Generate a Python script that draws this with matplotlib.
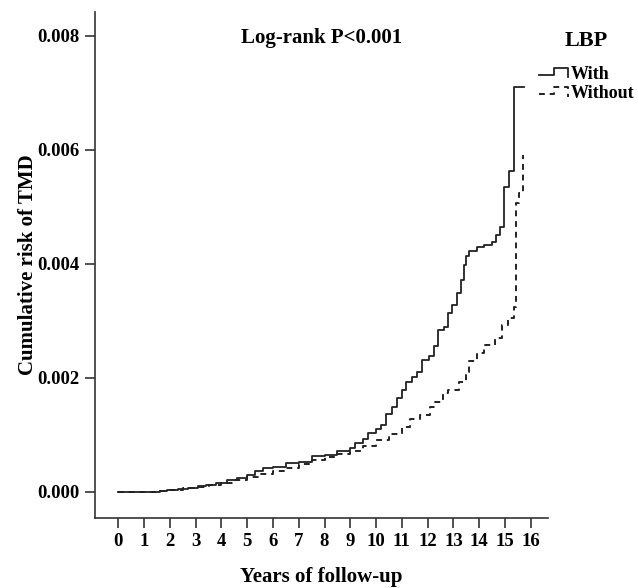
import matplotlib
matplotlib.use("Agg")
import matplotlib.pyplot as plt
from matplotlib.lines import Line2D
from matplotlib.legend_handler import HandlerLine2D

plt.rcParams["font.family"] = ["Liberation Serif", "DejaVu Serif"]
plt.rcParams["font.weight"] = "bold"

# Cumulative risk of TMD (step curves)
with_time = [0, 1.6, 1.9, 2.3, 2.7, 3.1, 3.4, 3.8, 4.2, 4.6, 5.0, 5.3, 5.6,
             6.0, 6.5, 7.0, 7.5, 8.0, 8.5, 9.0, 9.2, 9.5, 9.7, 10.0, 10.2,
             10.4, 10.6, 10.8, 11.0, 11.15, 11.4, 11.6, 11.8, 12.05, 12.25,
             12.4, 12.65, 12.8, 12.95, 13.15, 13.3, 13.4, 13.5, 13.6, 13.9,
             14.2, 14.5, 14.65, 14.8, 14.97, 15.15, 15.35, 15.74]
with_risk = [0, 0.00001, 0.00004, 0.00005, 0.00007, 0.00010, 0.00012,
             0.00016, 0.00021, 0.00025, 0.00030, 0.00037, 0.00041, 0.00044,
             0.00051, 0.00053, 0.00062, 0.00065, 0.00071, 0.00076, 0.00085,
             0.00092, 0.00103, 0.00110, 0.00118, 0.00136, 0.00148, 0.00164,
             0.00178, 0.00193, 0.00202, 0.00210, 0.00232, 0.00238, 0.00255,
             0.00284, 0.00289, 0.00314, 0.00328, 0.00349, 0.00372, 0.00398,
             0.00413, 0.00422, 0.00430, 0.00433, 0.00439, 0.00450, 0.00465,
             0.00535, 0.00562, 0.00710, 0.00710]

without_time = [0, 1.6, 2.0, 2.5, 3.0, 3.5, 4.0, 4.5, 5.0, 5.5, 6.0, 6.5,
                7.0, 7.5, 8.0, 8.5, 9.0, 9.5, 10.0, 10.5, 11.0, 11.3, 11.7,
                12.1, 12.3, 12.6, 12.8, 13.2, 13.5, 13.6, 13.9, 14.2, 14.6,
                14.9, 15.1, 15.36, 15.42, 15.55, 15.68, 15.70]
without_risk = [0, 0.00001, 0.00003, 0.00006, 0.00009, 0.00012, 0.00016,
                0.00020, 0.00026, 0.00031, 0.00036, 0.00042, 0.00048, 0.00055,
                0.00061, 0.00066, 0.00072, 0.00080, 0.00090, 0.00101, 0.00113,
                0.00128, 0.00134, 0.00148, 0.00158, 0.00173, 0.00179, 0.00193,
                0.00210, 0.00229, 0.00243, 0.00258, 0.00270, 0.00293, 0.00305,
                0.00325, 0.00507, 0.00524, 0.00591, 0.00591]

x_ticks = list(range(0, 17))
y_ticks = [0.000, 0.002, 0.004, 0.006, 0.008]

INK = "#222222"


class HandlerStep(HandlerLine2D):
    # legend glyph drawn as a small step, like the SPSS output
    def create_artists(self, legend, orig_handle, xdescent, ydescent,
                       width, height, fontsize, trans):
        x0, x1 = -xdescent, -xdescent + width
        xm = x0 + width * 0.5
        lo = -ydescent + height * 0.3
        hi = -ydescent + height * 0.85
        line = Line2D([x0, xm, xm, x1, x1], [lo, lo, hi, hi, lo * 0.4])
        self.update_prop(line, orig_handle, legend)
        line.set_transform(trans)
        return [line]


fig = plt.figure(figsize=(6.38, 5.88), dpi=100)
ax = fig.add_axes([0.149, 0.119, 0.71, 0.861])

ax.step(with_time, with_risk, where="post", color=INK, lw=1.3,
        label="With")
ax.step(without_time, without_risk, where="post", color=INK, lw=1.4,
        linestyle=(0, (3, 2.5)), label="Without")

ax.set_xlim(-0.9, 16.67)
ax.set_ylim(-0.00046, 0.00842)
ax.set_xticks(x_ticks)
ax.set_yticks(y_ticks)
ax.set_yticklabels([f"{v:.3f}" for v in y_ticks])

for side in ["top", "right"]:
    ax.spines[side].set_visible(False)
for side in ["left", "bottom"]:
    ax.spines[side].set_linewidth(1.2)
    ax.spines[side].set_color("#333333")
ax.tick_params(direction="out", length=7, width=1.2, color="#333333",
               labelsize=13.5, pad=4)

ax.set_xlabel("Years of follow-up", fontsize=15, fontweight="bold",
              labelpad=12)
ax.set_ylabel("Cumulative risk of TMD", fontsize=15, fontweight="bold",
              labelpad=0)

ax.text(0.5, 0.948, "Log-rank P<0.001", transform=ax.transAxes,
        ha="center", va="center", fontsize=15, fontweight="bold")

leg = ax.legend(title="LBP", loc="upper left",
                bbox_to_anchor=(0.845, 0.948), bbox_transform=fig.transFigure,
                frameon=False, fontsize=13, handlelength=1.6,
                handletextpad=0.15, labelspacing=0.12, borderpad=0,
                borderaxespad=0,
                handler_map={Line2D: HandlerStep()})
leg.get_title().set_fontsize(16)
leg.get_title().set_fontweight("bold")
leg._legend_box.sep = 11

fig.savefig("out.png", dpi=100)
